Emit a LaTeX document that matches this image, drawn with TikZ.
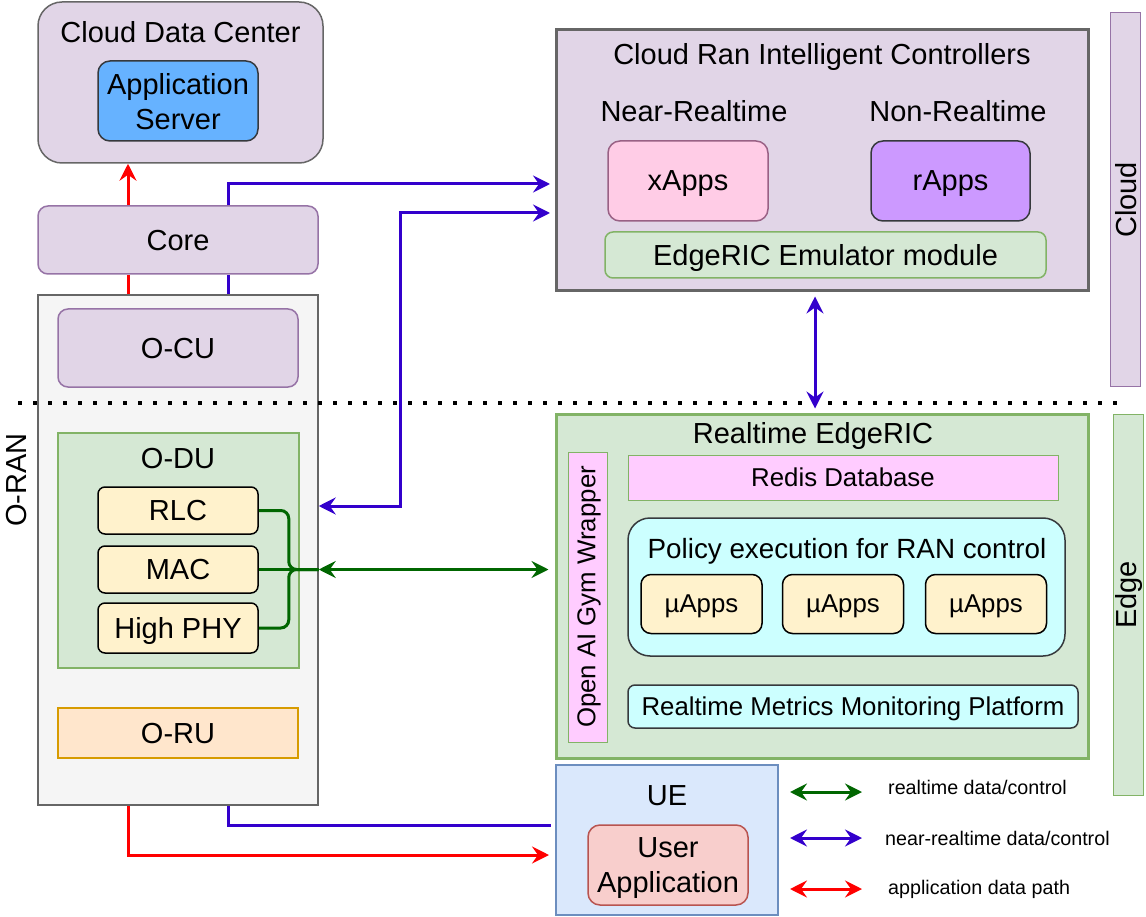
\documentclass[tikz,border=0pt]{standalone}
\usepackage{fontspec}
\setmainfont{Liberation Sans}
\usepackage{tikz}
\usetikzlibrary{arrows.meta}

\definecolor{purplefill}{HTML}{E1D5E7}
\definecolor{purpleline}{HTML}{9673A6}
\definecolor{grayfill}{HTML}{F5F5F5}
\definecolor{grayline}{HTML}{666666}
\definecolor{greenfill}{HTML}{D5E8D4}
\definecolor{greenline}{HTML}{82B366}
\definecolor{serverblue}{HTML}{66B2FF}
\definecolor{darkline}{HTML}{36393D}
\definecolor{yellowfill}{HTML}{FFF2CC}
\definecolor{orangefill}{HTML}{FFE6CC}
\definecolor{orangeline}{HTML}{D79B00}
\definecolor{pinkfill}{HTML}{FFCCE6}
\definecolor{pinkline}{HTML}{996185}
\definecolor{violetfill}{HTML}{CC99FF}
\definecolor{magentafill}{HTML}{FFCCFF}
\definecolor{cyanfill}{HTML}{CCFFFF}
\definecolor{uefill}{HTML}{DAE8FC}
\definecolor{ueline}{HTML}{6C8EBF}
\definecolor{redfill}{HTML}{F8CECC}
\definecolor{redline}{HTML}{B85450}
\definecolor{nrtblue}{HTML}{3300CC}
\definecolor{rtgreen}{HTML}{006600}
\definecolor{appred}{HTML}{FF0000}

\newcommand{\lgfont}{\fontsize{29}{35}\selectfont}
\newcommand{\pcfont}{\fontsize{27.8}{33}\selectfont}
\newcommand{\mdfont}{\fontsize{25.8}{31}\selectfont}
\newcommand{\smfont}{\fontsize{19.7}{24}\selectfont}

\tikzset{
  box/.style={draw, inner sep=0pt, align=center, text depth=0pt, line width=1.5pt, font=\lgfont},
  purplebox/.style={box, fill=purplefill, draw=purpleline},
  greenbox/.style={box, fill=greenfill, draw=greenline},
  layerbox/.style={box, fill=yellowfill, draw=black, rounded corners=7pt},
  cyanbox/.style={box, fill=cyanfill, draw=darkline},
  magbox/.style={box, fill=magentafill, draw=greenline, line width=1pt, font=\mdfont},
  sidebox/.style={box, line width=1pt},
  conn/.style={line width=3pt},
  nrt/.style={conn, draw=nrtblue},
  rt/.style={conn, draw=rtgreen},
  appd/.style={conn, draw=appred},
  legtext/.style={anchor=west, inner sep=0pt, font=\smfont}
}

\begin{document}
\begin{tikzpicture}[x=1pt, y=-1pt, >={Stealth[length=17pt, width=17pt, inset=6pt]}]
  \useasboundingbox (0,0) rectangle (1146,917);

  % cloud side: data center and core
  \node[purplebox, draw=grayline, rounded corners=24pt, minimum width=285pt, minimum height=161pt] (cdc) at (180.5,82.5) {};
  \node[font=\lgfont] (cdctitle) at (180.5,32) {Cloud Data Center};
  \node[box, fill=serverblue, draw=darkline, rounded corners=12pt, minimum width=160pt, minimum height=80pt] (appsrv) at (178,101) {Application\\Server};
  \node[purplebox, rounded corners=10pt, minimum width=280pt, minimum height=68pt] (core) at (178,240) {Core};

  % O-RAN stack
  \node[box, fill=grayfill, draw=grayline, minimum width=280pt, minimum height=510pt] (oran) at (178,550) {};
  \node[font=\lgfont, rotate=90] (oranlbl) at (17,480) {O-RAN};
  \node[purplebox, rounded corners=10pt, minimum width=240pt, minimum height=78pt] (ocu) at (178,348) {O-CU};
  \node[greenbox, line width=2pt, minimum width=241pt, minimum height=235pt] (odu) at (178.5,550.5) {};
  \node[font=\lgfont] (odutitle) at (178,459) {O-DU};
  \node[layerbox, minimum width=160pt, minimum height=47pt] (rlc) at (178,510.5) {RLC};
  \node[layerbox, minimum width=160pt, minimum height=47pt] (mac) at (178,569.5) {MAC};
  \node[layerbox, minimum width=160pt, minimum height=50pt] (hphy) at (178,628) {High PHY};
  \node[box, fill=orangefill, draw=orangeline, line width=2pt, minimum width=240pt, minimum height=50pt] (oru) at (178,733) {O-RU};

  % cloud RIC
  \node[box, fill=purplefill, draw=grayline, line width=3pt, minimum width=532pt, minimum height=261pt] (ric) at (822,160.5) {};
  \node[font=\lgfont] (rictitle) at (822,57) {Cloud Ran Intelligent Controllers};
  \node[font=\lgfont] (nearrt) at (694,111) {Near-Realtime};
  \node[font=\lgfont] (nonrt) at (958,111) {Non-Realtime};
  \node[box, fill=pinkfill, draw=pinkline, rounded corners=12pt, minimum width=160pt, minimum height=80pt] (xapps) at (688,181) {xApps};
  \node[box, fill=violetfill, draw=darkline, rounded corners=12pt, minimum width=159pt, minimum height=80pt] (rapps) at (950.5,181) {rApps};
  \node[greenbox, rounded corners=8pt, minimum width=441pt, minimum height=46pt] (emu) at (825.5,255) {EdgeRIC Emulator module};
  \node[sidebox, fill=purplefill, draw=purpleline, minimum width=30pt, minimum height=373pt] (cloudlbl) at (1125,199.5) {};
  \node[font=\lgfont, rotate=90] (cloudtxt) at (1126,200) {Cloud};

  % realtime EdgeRIC
  \node[greenbox, line width=3pt, minimum width=532pt, minimum height=344pt] (edgeric) at (822,586) {};
  \node[font=\lgfont] (edgetitle) at (813,436) {Realtime EdgeRIC};
  \node[magbox, minimum width=39pt, minimum height=290pt] (gym) at (587.5,597) {};
  \node[font=\mdfont, rotate=90] (gymtxt) at (589,597) {Open AI Gym Wrapper};
  \node[magbox, minimum width=430pt, minimum height=45pt] (redis) at (843,477.5) {Redis Database};
  \node[cyanbox, rounded corners=22pt, minimum width=437pt, minimum height=138pt] (policy) at (846.5,587) {};
  \node[font=\pcfont] (policytitle) at (847,551) {Policy execution for RAN control};
  \foreach \i/\xx in {1/701.5, 2/843, 3/986}
    \node[layerbox, rounded corners=10pt, font=\mdfont, minimum width=121pt, minimum height=59pt] (uapp\i) at (\xx,604) {µApps};
  \node[cyanbox, rounded corners=7pt, font=\mdfont, minimum width=450pt, minimum height=43pt] (metrics) at (853,706.5) {Realtime Metrics Monitoring Platform};
  \node[sidebox, fill=greenfill, draw=greenline, minimum width=30pt, minimum height=381pt] (edgelbl) at (1128,604.5) {};
  \node[font=\lgfont, rotate=90] (edgetxt) at (1129,595) {Edge};

  % UE
  \node[box, fill=uefill, draw=ueline, line width=2pt, minimum width=222pt, minimum height=150pt] (ue) at (667,840) {};
  \node[font=\lgfont] (uetitle) at (667,796) {UE};
  \node[box, fill=redfill, draw=redline, rounded corners=12pt, minimum width=160pt, minimum height=80pt] (userapp) at (668,865) {User\\Application};

  % cloud / edge split
  \draw[line width=3.5pt, dash pattern=on 3.5pt off 11.5pt] (18,403) -- (1125,403);

  % application data path
  \draw[appd] ([xshift=-50pt]oran.north) -- ([xshift=-50pt]core.south);
  \draw[appd, ->] ([xshift=-50pt]core.north) -- ([xshift=-50pt]core.north |- cdc.south);
  \draw[appd, ->, shorten >=6pt] ([xshift=-50pt]oran.south) |- ([yshift=-15pt]ue.west);

  % near-realtime paths
  \coordinate (ricin1) at (556,184);
  \coordinate (ricin2) at (556,213);
  \draw[nrt] ([xshift=50pt]oran.north) -- ([xshift=50pt]core.south);
  \draw[nrt, ->, shorten >=6pt] ([xshift=50pt]core.north) |- (ricin1);
  \draw[nrt, <->, shorten >=6pt] ([yshift=44pt]oran.east) -| (400,213) -- (ricin2);
  \draw[nrt, <->, shorten <=4pt, shorten >=4pt] ([xshift=-7pt]ric.south) -- ([xshift=-7pt]edgeric.north);
  \draw[nrt, shorten >=4pt] ([xshift=50pt]oran.south) |- ([yshift=15pt]ue.west);

  % realtime path
  \draw[rt, rounded corners=8pt] (rlc.east) -| ([xshift=30pt]mac.east) -- (oran.east |- mac.east);
  \draw[rt, rounded corners=8pt] (hphy.east) -| ([xshift=30pt]mac.east) -- (oran.east |- mac.east);
  \draw[rt] (mac.east) -- (oran.east |- mac.east);
  \draw[rt, <->, shorten >=6pt] (oran.east |- mac.east) -- (edgeric.west |- mac.east);

  % legend
  \foreach \sty/\yy/\ty/\tx/\txt in {rt/792/787/888/{realtime data/control},
      nrt/838/838/885/{near-realtime data/control},
      appd/889/889/888/{application data path}} {
    \node[legtext] (leg\sty) at (\tx,\ty) {\txt};
    \draw[\sty, <->] (790,\yy) -- (862,\yy);
  }
\end{tikzpicture}
\end{document}
